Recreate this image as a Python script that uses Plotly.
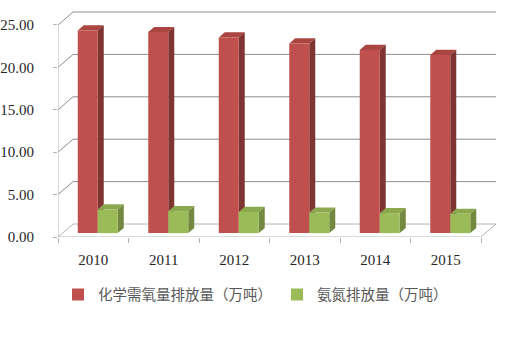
import plotly.graph_objects as go

# ---- data ----
years = ["2010", "2011", "2012", "2013", "2014", "2015"]
cod = [23.9, 23.7, 23.06, 22.35, 21.6, 21.0]
nh3 = [2.78, 2.59, 2.5, 2.42, 2.35, 2.27]
series_names = ["化学需氧量排放量（万吨）", "氨氮排放量（万吨）"]
y_ticks = [0, 5, 10, 15, 20, 25]
y_tick_text = ["0.00", "5.00", "10.00", "15.00", "20.00", "25.00"]

# ---- style / geometry ----
FRONT = ["#C0504D", "#9BBB59"]
TOP = ["#AA4541", "#8CA84F"]
SIDE = ["#7E3431", "#72893F"]
GRID = "#8E8E8E"
AXIS = "#B5B5B5"
SERIF = '"Liberation Serif", "Times New Roman", serif'

W, H = 438, 226.5          # plot area px
L, T = 58, 11
PPU_X, PPU_Y = 70.5, 8.5    # px per unit
DX, DY = 15 / PPU_X, 13 / PPU_Y   # depth of the 3D box in data units
F_FRONT, F_DEPTH = 0.3, 0.4
n = len(years)
bw = 20 / PPU_X

sx, sy = F_FRONT * DX, F_FRONT * DY
bdx, bdy = F_DEPTH * DX, F_DEPTH * DY

fig = go.Figure()
shapes = []

# back wall gridlines + side wall diagonals
for v in y_ticks:
    c = AXIS if v == 0 else GRID
    shapes.append(dict(type="line", xref="x", yref="y", x0=0, y0=v, x1=DX, y1=v + DY,
                       line=dict(color=c, width=1), layer="below"))
    shapes.append(dict(type="line", xref="x", yref="y", x0=DX, y0=v + DY, x1=n + DX, y1=v + DY,
                       line=dict(color=c, width=1), layer="below"))
# floor front edge, right diagonal, y axis line
shapes.append(dict(type="line", xref="x", yref="y", x0=0, y0=0, x1=n, y1=0,
                   line=dict(color=AXIS, width=1), layer="below"))
shapes.append(dict(type="line", xref="x", yref="y", x0=n, y0=0, x1=n + DX, y1=DY,
                   line=dict(color=AXIS, width=1), layer="below"))
shapes.append(dict(type="line", xref="x", yref="y", x0=0, y0=0, x1=0, y1=y_ticks[-1],
                   line=dict(color=AXIS, width=1), layer="below"))

for k, vals in enumerate([cod, nh3]):
    xs = [i + 0.5 + sx + (k - 0.5) * bw for i in range(n)]
    fig.add_trace(go.Bar(x=xs, y=vals, base=[sy] * n, width=bw, name=series_names[k],
                         marker=dict(color=FRONT[k], line=dict(width=0)),
                         hoverinfo="skip"))
    for xc, v in zip(xs, vals):
        x0, x1 = xc - bw / 2, xc + bw / 2
        top = v + sy
        shapes.append(dict(type="path", xref="x", yref="y", layer="below",
                           path=f"M{x0},{top} L{x1},{top} L{x1+bdx},{top+bdy} L{x0+bdx},{top+bdy} Z",
                           fillcolor=TOP[k], line=dict(width=0)))
        shapes.append(dict(type="path", xref="x", yref="y", layer="below",
                           path=f"M{x1},{sy} L{x1},{top} L{x1+bdx},{top+bdy} L{x1+bdx},{sy+bdy} Z",
                           fillcolor=SIDE[k], line=dict(width=0)))

fig.update_layout(
    width=506, height=342,
    margin=dict(l=L, r=506 - L - W, t=T, b=342 - T - H, pad=0, autoexpand=False),
    paper_bgcolor="white", plot_bgcolor="white",
    barmode="overlay",
    shapes=shapes,
    showlegend=True,
    legend=dict(orientation="h", x=0.0, xanchor="left",
                y=-0.184, yanchor="top",
                font=dict(family="Noto Sans CJK SC", size=14.5, color="#595959"),
                itemwidth=30, traceorder="normal"),
    xaxis=dict(range=[0, W / PPU_X], showgrid=False, zeroline=False, showline=False,
               tickvals=[i + 0.5 for i in range(n)], ticktext=years, ticks="",
               ticklabelstandoff=12, tickangle=0,
               tickfont=dict(family=SERIF, size=15, color="#262626"),
               minor=dict(tickvals=list(range(n + 1)), ticks="outside", ticklen=5,
                          tickcolor=AXIS, showgrid=False)),
    yaxis=dict(range=[0, H / PPU_Y], showgrid=False, zeroline=False, showline=False,
               tickvals=y_ticks, ticktext=y_tick_text, ticks="outside", ticklen=4,
               tickcolor=AXIS, ticklabelstandoff=16,
               tickfont=dict(family=SERIF, size=15, color="#262626")),
)

fig.write_html("out.html")
